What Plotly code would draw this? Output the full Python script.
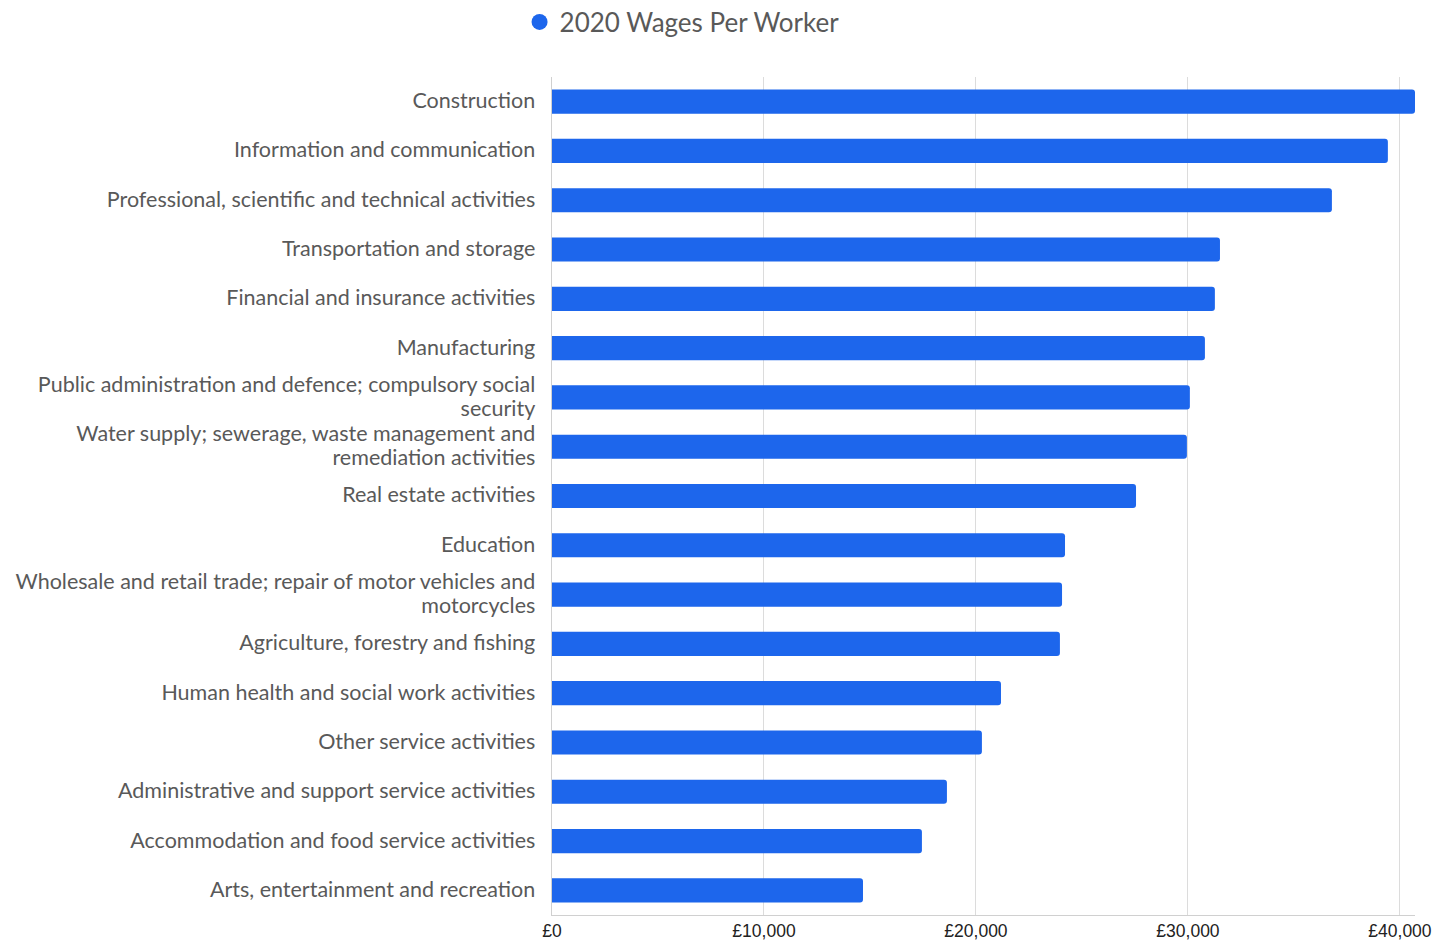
import plotly.graph_objects as go

categories = [
    "Construction",
    "Information and communication",
    "Professional, scientific and technical activities",
    "Transportation and storage",
    "Financial and insurance activities",
    "Manufacturing",
    "Public administration and defence; compulsory social<br>security",
    "Water supply; sewerage, waste management and<br>remediation activities",
    "Real estate activities",
    "Education",
    "Wholesale and retail trade; repair of motor vehicles and<br>motorcycles",
    "Agriculture, forestry and fishing",
    "Human health and social work activities",
    "Other service activities",
    "Administrative and support service activities",
    "Accommodation and food service activities",
    "Arts, entertainment and recreation",
]
wages = [40710, 39430, 36790, 31510, 31270, 30800, 30090, 29950, 27550,
         24200, 24060, 23960, 21180, 20280, 18630, 17450, 14670]
series_name = "2020 Wages Per Worker"
tick_vals = [0, 10000, 20000, 30000, 40000]
tick_text = ["£0", "£10,000", "£20,000", "£30,000", "£40,000"]

BLUE = "#1D66EC"

# Larger glyphs on a tighter line pitch, as in the reference
def big(label):
    return "<br>".join(
        "<span style='font-size:21.5px'>" + part + "</span>" for part in label.split("<br>")
    )

cat_text = [big(c) for c in categories]

fig = go.Figure()
fig.add_trace(go.Bar(
    x=wages, y=categories, orientation="h",
    marker=dict(color=BLUE, line=dict(width=0)),
    showlegend=False, name=series_name,
))
fig.add_trace(go.Scatter(
    x=[None], y=[None], mode="markers", name=series_name,
    marker=dict(color=BLUE, size=16, symbol="circle"),
    showlegend=True,
))

# page body adds an 8px offset; margins compensate for it
fig.update_layout(
    width=1450, height=942,
    margin=dict(l=544, r=43, t=69, b=35, autoexpand=False),
    paper_bgcolor="white", plot_bgcolor="white",
    bargap=0.51, barcornerradius=3,
    font=dict(family="Lato", color="#595959"),
    legend=dict(
        orientation="h", xref="container", yref="container",
        x=0.3528, xanchor="left", y=1 - 14 / 942, yanchor="middle",
        font=dict(family="Lato", size=26, color="#595959"),
        itemsizing="trace", bgcolor="rgba(0,0,0,0)",
    ),
)
fig.update_xaxes(
    range=[0, 40710], tickvals=tick_vals, ticktext=tick_text,
    showgrid=True, gridcolor="#dcdcdc", gridwidth=1,
    showline=True, linecolor="#d0d0d0", linewidth=1,
    zeroline=False, ticks="",
    tickfont=dict(family="Liberation Sans", size=17.5, color="#222222"),
    fixedrange=True,
)
fig.update_yaxes(
    autorange="reversed", categoryorder="array", categoryarray=categories,
    tickmode="array", tickvals=categories, ticktext=cat_text,
    showgrid=False, showline=True, linecolor="#d0d0d0", linewidth=1,
    ticks="", ticklabelstandoff=12,
    tickfont=dict(family="Lato", size=18.5, color="#595959"),
    fixedrange=True,
)

fig.write_html("out.html")
